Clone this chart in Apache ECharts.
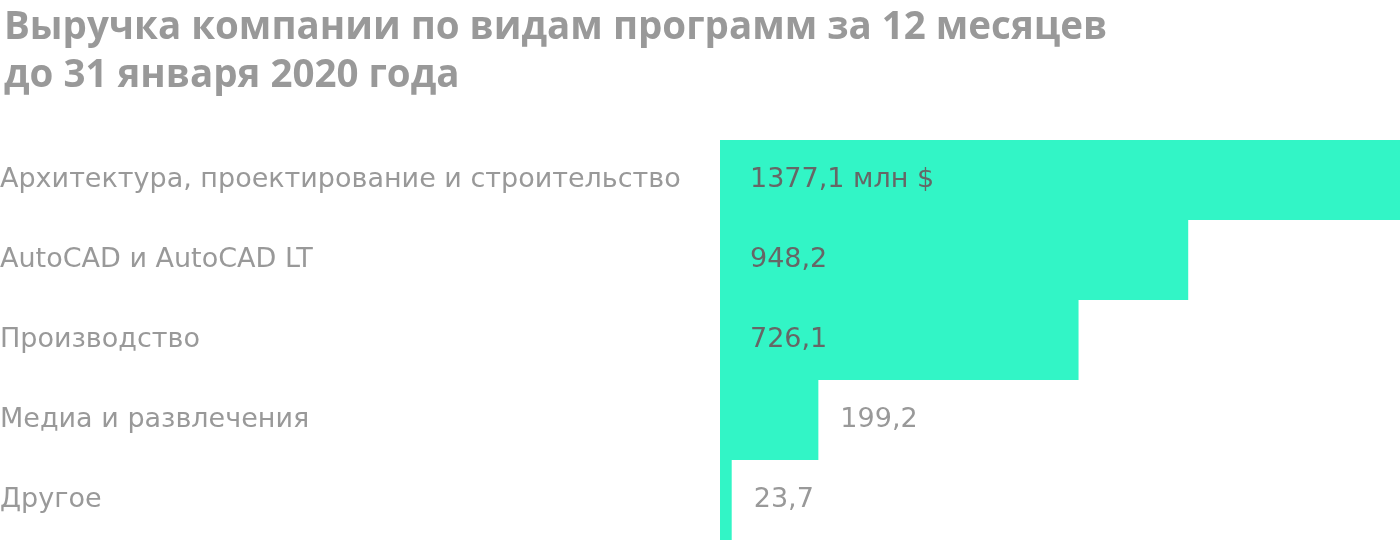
<!DOCTYPE html>
<html>
<head>
<meta charset="utf-8">
<script src="https://cdn.jsdelivr.net/npm/echarts@6/dist/echarts.min.js"></script>
<style>
html,body{margin:0;padding:0;background:#fff;}
#c{width:1400px;height:540px;}
</style>
</head>
<body>
<div id="c"></div>
<script>
var titleText = 'Выручка компании по видам программ за 12 месяцев\nдо 31 января 2020 года';
var categories = ['Архитектура, проектирование и строительство', 'AutoCAD и AutoCAD LT', 'Производство', 'Медиа и развлечения', 'Другое'];
var values = [1377.1, 948.2, 726.1, 199.2, 23.7];
var valueLabels = ['1377,1 млн $', '948,2', '726,1', '199,2', '23,7'];

var chart = echarts.init(document.getElementById('c'));
var data = values.map(function (v, i) {
  var inside = v > 500;
  return {
    value: v,
    label: inside ? {
      position: 'insideLeft', distance: 30, color: '#666666'
    } : {
      position: 'right', distance: 22, color: '#999999'
    }
  };
});
chart.setOption({
  animation: false,
  title: {
    text: titleText,
    left: -1, top: -1,
    textStyle: { fontFamily: 'Open Sans', fontWeight: 'bold', fontSize: 38.5, lineHeight: 48, color: '#999999' }
  },
  grid: { left: 720, right: 0, top: 140, bottom: 0, containLabel: false, outerBoundsMode: 'none' },
  xAxis: { type: 'value', min: 0, max: 'dataMax', show: false },
  yAxis: {
    type: 'category', inverse: true, data: categories,
    axisLine: { show: false }, axisTick: { show: false },
    axisLabel: { align: 'left', margin: 720, fontFamily: 'DejaVu Sans', fontSize: 27, color: '#999999' }
  },
  series: [{
    type: 'bar',
    data: data,
    barCategoryGap: '0%',
    itemStyle: { color: '#32f5c6' },
    label: {
      show: true, fontFamily: 'DejaVu Sans', fontSize: 27,
      formatter: function (p) { return valueLabels[p.dataIndex]; }
    }
  }]
});
</script>
</body>
</html>
